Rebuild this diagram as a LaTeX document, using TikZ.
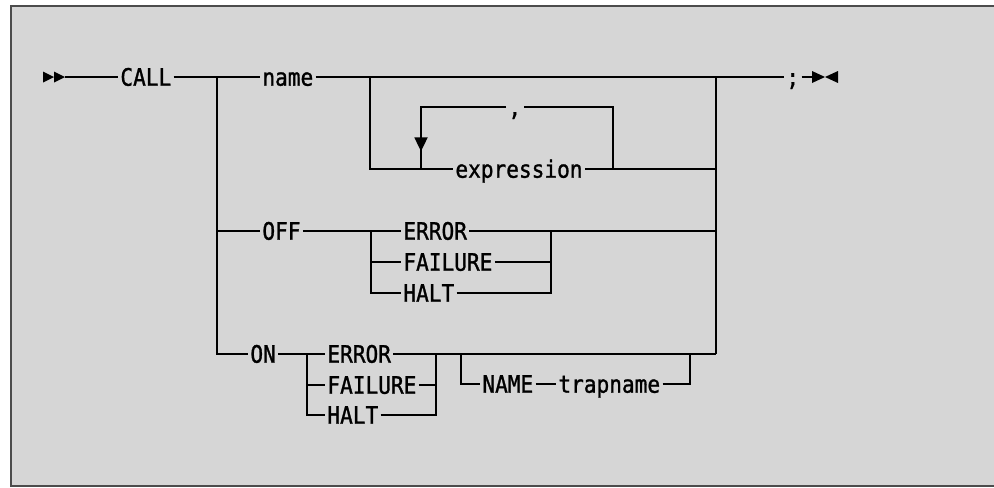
\documentclass[tikz,border=0pt]{standalone}
\usepackage{fontspec}
\newfontfamily\railfont[FakeStretch=0.88,FakeBold=1.2]{DejaVu Sans Mono}
\usetikzlibrary{arrows.meta,decorations.markings}
\definecolor{screen}{gray}{0.84}
\tikzset{
    rail/.style={
        line width=0.9pt,
        black
    },
    term/.style={
        anchor=west,
        inner xsep=1pt,
        inner ysep=0pt,
        text height=8.7pt,
        text depth=0pt,
        font={\railfont\fontsize{12pt}{14pt}\selectfont}
    },
    loop back/.style={
        postaction=decorate,
        decoration={markings,
        mark=at position 0.88 with {\arrow{Triangle[length=7pt,width=6.5pt]}}
        }
    }
}

\begin{document}
\begin{tikzpicture}[x=0.5pt,y=-0.5pt]
            \useasboundingbox (0,0) rectangle (994,487);
            \fill[screen] (11,6) rectangle (994,486);
            \draw[line width=0.8pt,black!70] (994,6) -- (11,6) -- (11,486) -- (994,486);
            % terms
            \node[term] (call) at (118,77) {CALL};
            \node[term] (name) at (260,77) {name};
            \node[term] (comma) at (506,107) {,};
            \node[term] (expr) at (453,169) {expression};
            \node[term] (semi) at (784,77) {;};
            \node[term] (off) at (260,231) {OFF};
            \node[term] (offerr) at (401,231) {ERROR};
            \node[term] (offfail) at (401,262) {FAILURE};
            \node[term] (offhalt) at (401,293) {HALT};
            \node[term] (on) at (248,354) {ON};
            \node[term] (onerr) at (325,354) {ERROR};
            \node[term] (onfail) at (325,385) {FAILURE};
            \node[term] (onhalt) at (325,415) {HALT};
            \node[term] (nm) at (480,384) {NAME};
            \node[term] (trap) at (556,384) {trapname};
            % junctions
            \coordinate (start) at (65,77);
            \coordinate (stop) at (812,77);
            \coordinate (fork) at (217,77);
            \coordinate (join) at (716,77);
            \coordinate (optL) at (370,77);
            \coordinate (loopL) at (421,169);
            \coordinate (loopR) at (613,169);
            \coordinate (offL) at (371,231);
            \coordinate (offR) at (551,231);
            \coordinate (onL) at (307,354);
            \coordinate (onR) at (436,354);
            \coordinate (nmL) at (461,354);
            \coordinate (nmR) at (690,354);
            % main line
            \fill (start) -- ++(-11,5.5) -- ++(0,-11) -- cycle;
            \fill (start) ++(-11,0) -- ++(-11,5.5) -- ++(0,-11) -- cycle;
            \draw[rail] (start) -- (call.west);
            \draw[rail] (call.east) -- (name.west);
            \draw[rail] (name.east) -- (semi.west);
            \draw[rail] (semi.east) -- (stop);
            \fill (stop) -- ++(0,-6) -- ++(13,6) -- ++(-13,6) -- cycle;
            \fill (stop) ++(26,0) -- ++(0,-6) -- ++(-13,6) -- ++(13,6) -- cycle;
            \draw[rail] (fork) |- (on.west);
            \draw[rail] (fork |- off) -- (off.west);
            \draw[rail] (join) -- (join |- on);
            % expression list
            \draw[rail] (optL) |- (expr.west);
            \draw[rail] (expr.east) -- (expr.east -| join);
            \draw[rail,loop back] (comma.west) -| (loopL);
            \draw[rail] (loopR) |- (comma.east);
            % OFF
            \draw[rail] (off.east) -- (offerr.west);
            \draw[rail] (offerr.east) -- (offerr.east -| join);
            \draw[rail] (offL) |- (offfail.west);
            \draw[rail] (offL) |- (offhalt.west);
            \draw[rail] (offfail.east) -| (offR);
            \draw[rail] (offhalt.east) -| (offR);
            % ON
            \draw[rail] (on.east) -- (onerr.west);
            \draw[rail] (onerr.east) -- (onerr.east -| join);
            \draw[rail] (onL) |- (onfail.west);
            \draw[rail] (onL) |- (onhalt.west);
            \draw[rail] (onfail.east) -| (onR);
            \draw[rail] (onhalt.east) -| (onR);
            \draw[rail] (nmL) |- (nm.west);
            \draw[rail] (nm.east) -- (trap.west);
            \draw[rail] (trap.east) -| (nmR);
\end{tikzpicture}
\end{document}
